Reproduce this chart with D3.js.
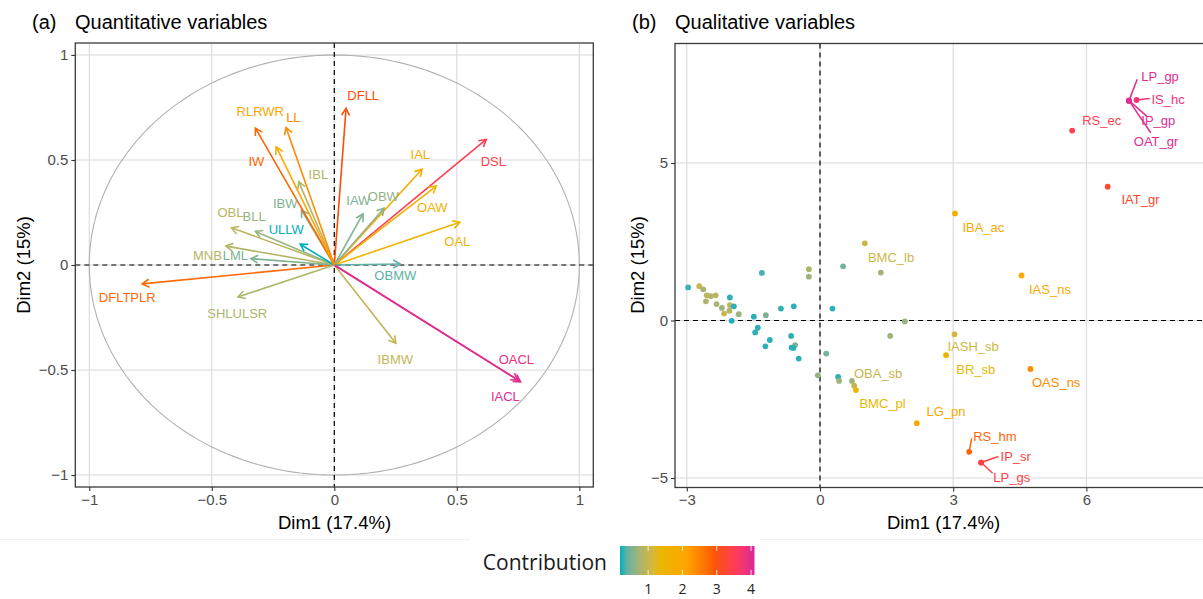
<!DOCTYPE html>
<html><head><meta charset="utf-8">
<script src="https://cdn.jsdelivr.net/npm/d3@7"></script>
<style>body{margin:0;background:#fff}svg{display:block}</style>
</head><body><svg id="c" width="1203" height="599"></svg>
<script>
// ---------- Panel (a): quantitative variables ----------
const varNames   = ["DFLL","DSL","IAL","OAW","OAL","IAW","OBW","OBMW","IBMW","OACL","IACL","DFLTPLR","SHLULSR","MNB","LML","OBL","BLL","ULLW","IBW","IBL","IW","RLRWR","LL"];
const varDim1    = [0.048,0.620,0.358,0.416,0.512,0.117,0.203,0.269,0.251,0.750,0.760,-0.784,-0.393,-0.442,-0.340,-0.420,-0.322,-0.139,-0.134,-0.145,-0.322,-0.237,-0.197];
const varDim2    = [0.746,0.598,0.456,0.376,0.203,0.243,0.270,0.005,-0.373,-0.548,-0.556,-0.090,-0.152,0.090,0.030,0.177,0.160,0.099,0.262,0.396,0.652,0.562,0.655];
const varContrib = [3.0,3.5,1.8,1.6,1.45,0.5,0.6,0.35,0.95,3.9,4.0,2.75,0.8,0.85,0.5,0.9,0.65,0.18,0.5,0.85,2.8,2.0,2.4];
const varLabDim1 = [0.118,0.649,0.351,0.400,0.502,0.098,0.200,0.249,0.249,0.743,0.698,-0.845,-0.396,-0.518,-0.404,-0.424,-0.327,-0.196,-0.200,-0.065,-0.318,-0.302,-0.167];
const varLabDim2 = [0.805,0.495,0.524,0.276,0.114,0.305,0.324,-0.052,-0.452,-0.452,-0.624,-0.157,-0.233,0.043,0.043,0.252,0.233,0.171,0.295,0.433,0.495,0.733,0.700];
const aTicks     = [-1,-0.5,0,0.5,1];
const aTickLabels= ["\u22121","\u22120.5","0","0.5","1"];

// ---------- Panel (b): qualitative variables ----------
const catNames   = ["","","","","","","","","","","","","","","","","","","","","","","","","","","","","","","","","","","","","","","","","","",
                    "OBA_sb","BMC_pl","BMC_lb","LG_pn","IBA_ac","IAS_ns","IASH_sb","BR_sb","OAS_ns","RS_hm","IP_sr","LP_gs","RS_ec","IAT_gr","LP_gp","IP_gp","OAT_gr","IS_hc"];
const catDim1    = [-2.97,-2.72,-2.63,-2.55,-2.46,-2.35,-2.57,-2.33,-2.21,-2.16,-2.04,-2.03,-2.03,-1.94,-1.99,-1.83,-1.31,-1.49,-1.22,-1.40,-1.46,-1.13,-1.23,-0.88,-0.59,-0.65,-0.64,-0.56,-0.60,-0.48,-0.25,-0.25,0.28,0.14,0.52,-0.05,0.41,0.43,0.72,1.37,1.91,1.58,
                    0.77,0.81,1.01,2.18,3.04,4.54,3.03,2.84,4.74,3.36,3.63,3.63,5.68,6.48,6.96,6.96,6.96,7.13];
const catDim2    = [1.05,1.09,0.99,0.80,0.77,0.80,0.61,0.52,0.40,0.22,0.31,0.49,0.73,0.45,-0.01,0.20,1.51,0.12,0.17,-0.23,-0.38,-0.62,-0.82,0.38,0.45,-0.49,-0.86,-0.78,-0.87,-1.21,1.63,1.39,0.38,-1.05,1.72,-1.74,-1.79,-1.92,-1.92,1.52,-0.03,-0.49,
                    -2.07,-2.21,2.45,-3.26,3.40,1.43,-0.44,-1.10,-1.54,-4.17,-4.51,-4.51,6.03,4.25,6.98,6.98,6.98,7.00];
const catContrib = [0.25,1.0,0.75,0.9,0.85,0.9,0.8,0.75,0.7,1.0,0.85,0.9,0.22,0.22,0.2,0.7,0.28,0.22,0.5,0.22,0.22,0.22,0.22,0.22,0.22,0.22,0.22,0.5,0.22,0.22,0.8,0.7,0.22,0.45,0.45,0.65,0.22,0.7,0.7,0.7,0.65,0.7,
                    1.0,1.3,1.05,2.0,1.9,2.0,1.1,1.3,2.4,2.8,3.4,3.4,3.5,3.2,4.0,4.0,4.0,3.8];
const catLabDim1 = {OBA_sb:1.31,BMC_pl:1.41,BMC_lb:1.60,LG_pn:2.84,IBA_ac:3.68,IAS_ns:5.18,IASH_sb:3.45,BR_sb:3.51,OAS_ns:5.32,RS_hm:3.94,IP_sr:4.41,LP_gs:4.32,RS_ec:6.345,IAT_gr:7.22,LP_gp:7.66,IP_gp:7.62,OAT_gr:7.57,IS_hc:7.84};
const catLabDim2 = {OBA_sb:-1.68,BMC_pl:-2.63,BMC_lb:2.01,LG_pn:-2.90,IBA_ac:2.96,IAS_ns:0.99,IASH_sb:-0.83,BR_sb:-1.55,OAS_ns:-1.97,RS_hm:-3.67,IP_sr:-4.32,LP_gs:-4.98,RS_ec:6.365,IAT_gr:3.85,LP_gp:7.74,IP_gp:6.34,OAT_gr:5.68,IS_hc:7.03};
const catSegDim1 = {RS_hm:3.417,IP_sr:4.016,LP_gs:3.89,LP_gp:7.146,IP_gp:7.36,OAT_gr:7.45,IS_hc:7.43};
const catSegDim2 = {RS_hm:-3.74,IP_sr:-4.32,LP_gs:-4.85,LP_gp:7.657,IP_gp:6.49,OAT_gr:5.96,IS_hc:7.05};
const bXTicks = [-3,0,3,6], bXTickLabels = ["\u22123","0","3","6"];
const bYTicks = [-5,0,5],   bYTickLabels = ["\u22125","0","5"];

// ---------- Legend ----------
const contribStops  = [0.18,1.3,2.1,3.0,3.6,4.1];
const contribColors = ["#00AFBB","#E7B800","#FFA500","#FC4E07","#FF3B5C","#D62A9E"];
const legendTicks   = [1,2,3,4];

const FONT = "'Liberation Sans', Arial, Helvetica, sans-serif";
const svg = d3.select("#c");
const col = d3.scaleLinear().domain(contribStops).range(contribColors).interpolate(d3.interpolateLab).clamp(true);

function drawAxes(g, xs, ys, xt, xtl, yt, ytl, x0, x1, y0, y1){
  g.append("g").selectAll("line").data(xt).join("line")
    .attr("x1", d=>xs(d)).attr("x2", d=>xs(d)).attr("y1", y0).attr("y2", y1)
    .attr("stroke", "#DADADA").attr("stroke-width", 1.1);
  g.append("g").selectAll("line").data(yt).join("line")
    .attr("y1", d=>ys(d)).attr("y2", d=>ys(d)).attr("x1", x0).attr("x2", x1)
    .attr("stroke", "#DADADA").attr("stroke-width", 1.1);
  const xa = d3.axisBottom(xs).tickValues(xt).tickFormat((d,i)=>xtl[i]).tickSize(4).tickPadding(3);
  const ya = d3.axisLeft(ys).tickValues(yt).tickFormat((d,i)=>ytl[i]).tickSize(4).tickPadding(3);
  const gx = g.append("g").attr("transform", `translate(0,${y1})`).call(xa);
  const gy = g.append("g").attr("transform", `translate(${x0},0)`).call(ya);
  [gx, gy].forEach(a=>{
    a.select(".domain").remove();
    a.selectAll(".tick line").attr("stroke", "#333").attr("stroke-width", 1.1);
    a.selectAll(".tick text").attr("fill", "#4D4D4D").attr("font-size", 15).attr("font-family", FONT);
  });
}

// ===== Panel A =====
const ax = d3.scaleLinear().domain([-1.057,1.057]).range([75.3,593.3]);
const ay = d3.scaleLinear().domain([-1.057,1.057]).range([487,43]);
const gA = svg.append("g");
drawAxes(gA, ax, ay, aTicks, aTickLabels, aTicks, aTickLabels, 75.3, 593.3, 43, 487);
const circ = d3.range(0, 361, 2).map(t=>[Math.cos(t*Math.PI/180), Math.sin(t*Math.PI/180)]);
gA.append("path").attr("d", d3.line().x(d=>ax(d[0])).y(d=>ay(d[1]))(circ))
  .attr("fill","none").attr("stroke","#B0B0B0").attr("stroke-width",1.1);
gA.append("line").attr("x1",ax(0)).attr("x2",ax(0)).attr("y1",43).attr("y2",487).attr("stroke","#000").attr("stroke-width",1.2).attr("stroke-dasharray","5,4");
gA.append("line").attr("y1",ay(0)).attr("y2",ay(0)).attr("x1",75.3).attr("x2",593.3).attr("stroke","#000").attr("stroke-width",1.2).attr("stroke-dasharray","5,4");
const arrG = gA.append("g");
varNames.forEach((n,i)=>{
  const x1=ax(0), y1=ay(0), x2=ax(varDim1[i]), y2=ay(varDim2[i]);
  const c = col(varContrib[i]);
  arrG.append("line").attr("x1",x1).attr("y1",y1).attr("x2",x2).attr("y2",y2)
    .attr("stroke",c).attr("stroke-width",1.6);
  const a = Math.atan2(y2-y1, x2-x1), L=8, ph=Math.PI/6;
  const p = [[x2-L*Math.cos(a-ph), y2-L*Math.sin(a-ph)],[x2,y2],[x2-L*Math.cos(a+ph), y2-L*Math.sin(a+ph)]];
  arrG.append("path").attr("d", d3.line()(p)).attr("fill","none").attr("stroke",c).attr("stroke-width",1.6).attr("stroke-linejoin","miter");
});
gA.append("g").selectAll("text").data(varNames).join("text")
  .attr("x",(d,i)=>ax(varLabDim1[i])).attr("y",(d,i)=>ay(varLabDim2[i]))
  .attr("text-anchor","middle").attr("dominant-baseline","central")
  .attr("font-family",FONT).attr("font-size",13).attr("fill",(d,i)=>col(varContrib[i])).text(d=>d);
gA.append("rect").attr("x",75.3).attr("y",43).attr("width",593.3-75.3).attr("height",444)
  .attr("fill","none").attr("stroke","#3A3A3A").attr("stroke-width",1.3);
gA.append("text").attr("x",32).attr("y",29).attr("font-family",FONT).attr("font-size",20).attr("fill","#000").text("(a)");
gA.append("text").attr("x",75).attr("y",29).attr("font-family",FONT).attr("font-size",20).attr("fill","#000").text("Quantitative variables");
gA.append("text").attr("x",334.5).attr("y",529).attr("text-anchor","middle").attr("font-family",FONT).attr("font-size",18.5).attr("fill","#000").text("Dim1 (17.4%)");
gA.append("text").attr("transform","translate(29.5,265) rotate(-90)").attr("text-anchor","middle").attr("font-family",FONT).attr("font-size",18.5).attr("fill","#000").text("Dim2 (15%)");

// ===== Panel B =====
const bx = d3.scaleLinear().domain([-3.266,8.83]).range([675,1212]);
const by = d3.scaleLinear().domain([-5.302,8.794]).range([487.5,43.5]);
const gB = svg.append("g");
drawAxes(gB, bx, by, bXTicks, bXTickLabels, bYTicks, bYTickLabels, 675, 1212, 43.5, 487.5);
gB.append("line").attr("x1",bx(0)).attr("x2",bx(0)).attr("y1",43.5).attr("y2",487.5).attr("stroke","#000").attr("stroke-width",1.2).attr("stroke-dasharray","5,4");
gB.append("line").attr("y1",by(0)).attr("y2",by(0)).attr("x1",675).attr("x2",1212).attr("stroke","#000").attr("stroke-width",1.2).attr("stroke-dasharray","5,4");
const idx = d3.range(catNames.length);
gB.append("g").selectAll("circle").data(idx).join("circle")
  .attr("cx",i=>bx(catDim1[i])).attr("cy",i=>by(catDim2[i])).attr("r",2.9)
  .attr("fill",i=>col(catContrib[i]));
const lab = idx.filter(i=>catNames[i]!=="");
gB.append("g").selectAll("line").data(lab.filter(i=>catSegDim1[catNames[i]]!==undefined)).join("line")
  .attr("x1",i=>bx(catDim1[i])).attr("y1",i=>by(catDim2[i]))
  .attr("x2",i=>bx(catSegDim1[catNames[i]])).attr("y2",i=>by(catSegDim2[catNames[i]]))
  .attr("stroke",i=>col(catContrib[i])).attr("stroke-width",1.5);
gB.append("g").selectAll("text").data(lab).join("text")
  .attr("x",i=>bx(catLabDim1[catNames[i]])).attr("y",i=>by(catLabDim2[catNames[i]]))
  .attr("text-anchor","middle").attr("dominant-baseline","central")
  .attr("font-family",FONT).attr("font-size",13).attr("fill",i=>col(catContrib[i])).text(i=>catNames[i]);
gB.append("rect").attr("x",675).attr("y",43.5).attr("width",1212-675).attr("height",444)
  .attr("fill","none").attr("stroke","#3A3A3A").attr("stroke-width",1.3);
gB.append("text").attr("x",632).attr("y",29).attr("font-family",FONT).attr("font-size",20).attr("fill","#000").text("(b)");
gB.append("text").attr("x",675).attr("y",29).attr("font-family",FONT).attr("font-size",20).attr("fill","#000").text("Qualitative variables");
gB.append("text").attr("x",943.5).attr("y",529).attr("text-anchor","middle").attr("font-family",FONT).attr("font-size",18.5).attr("fill","#000").text("Dim1 (17.4%)");
gB.append("text").attr("transform","translate(644,265) rotate(-90)").attr("text-anchor","middle").attr("font-family",FONT).attr("font-size",18.5).attr("fill","#000").text("Dim2 (15%)");

// ===== Legend =====
const lx = d3.scaleLinear().domain([contribStops[0], contribStops[contribStops.length-1]]).range([620,754.5]);
const defs = svg.append("defs");
const grad = defs.append("linearGradient").attr("id","cg").attr("x1","0%").attr("x2","100%");
d3.range(0,1.0001,0.05).forEach(t=>{
  const v = lx.domain()[0] + t*(lx.domain()[1]-lx.domain()[0]);
  grad.append("stop").attr("offset",(t*100)+"%").attr("stop-color",col(v));
});
svg.append("line").attr("x1",0).attr("x2",470).attr("y1",539.5).attr("y2",539.5).attr("stroke","#F0F0F0");
svg.append("line").attr("x1",760).attr("x2",1203).attr("y1",539.5).attr("y2",539.5).attr("stroke","#F0F0F0");
svg.append("rect").attr("x",620).attr("y",546).attr("width",134.5).attr("height",29).attr("fill","url(#cg)");
const lt = svg.append("g");
legendTicks.forEach(v=>{
  lt.append("line").attr("x1",lx(v)).attr("x2",lx(v)).attr("y1",546).attr("y2",551).attr("stroke","#fff").attr("stroke-width",0.8);
  lt.append("line").attr("x1",lx(v)).attr("x2",lx(v)).attr("y1",570).attr("y2",575).attr("stroke","#fff").attr("stroke-width",0.8);
  lt.append("text").attr("x",lx(v)).attr("y",594).attr("text-anchor","middle").attr("font-family","'Open Sans', 'Noto Sans', sans-serif").attr("font-size",14).attr("fill","#222").text(v);
});
svg.append("text").attr("x",607).attr("y",570).attr("text-anchor","end").attr("font-family","'Open Sans', 'Noto Sans', sans-serif").attr("font-size",21).attr("fill","#1a1a1a").text("Contribution");
</script></body></html>
